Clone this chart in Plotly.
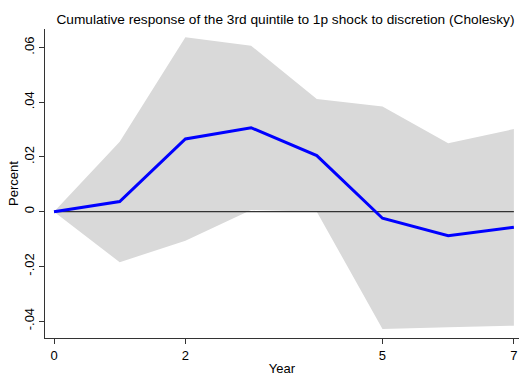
import plotly.graph_objects as go

years = [0, 1, 2, 3, 4, 5, 6, 7]
response = [0.0, 0.0037, 0.0266, 0.0307, 0.0205, -0.0024, -0.0088, -0.0057]
upper = [0.0, 0.0256, 0.0638, 0.0607, 0.0412, 0.0385, 0.0250, 0.0302]
lower = [0.0, -0.0185, -0.0106, 0.0006, 0.0, -0.0429, -0.0423, -0.0417]
x_ticks = [0, 2, 5, 7]
y_ticks = [-0.04, -0.02, 0, 0.02, 0.04, 0.06]
y_labels = ["-.04", "-.02", "0", ".02", ".04", ".06"]

FONT = "Liberation Sans, Arial, sans-serif"

fig = go.Figure()
fig.add_trace(go.Scatter(x=years, y=upper, mode="lines", line=dict(width=0),
                         hoverinfo="skip", showlegend=False))
fig.add_trace(go.Scatter(x=years, y=lower, mode="lines", line=dict(width=0),
                         fill="tonexty", fillcolor="#d9d9d9",
                         hoverinfo="skip", showlegend=False))
fig.add_trace(go.Scatter(x=[years[0], years[-1]], y=[0, 0], mode="lines",
                         line=dict(color="#333333", width=1.2),
                         hoverinfo="skip", showlegend=False))
fig.add_trace(go.Scatter(x=years, y=response, mode="lines",
                         line=dict(color="#0000ff", width=3),
                         showlegend=False))

fig.update_layout(
    width=519, height=376,
    margin=dict(l=45, r=0, t=29, b=38),
    paper_bgcolor="white", plot_bgcolor="white",
    font=dict(family=FONT, size=12, color="black"),
    title=dict(text="Cumulative response of the 3rd quintile to 1p shock to discretion (Cholesky)",
               x=0.550, xanchor="center", y=0.950, yanchor="middle",
               font=dict(family=FONT, size=13.7, color="black")),
    xaxis=dict(range=[-0.137, 7.078], tickvals=x_ticks, ticktext=[str(v) for v in x_ticks],
               showgrid=False, zeroline=False, showline=True, linecolor="#333333", linewidth=1.2,
               ticks="outside", ticklen=5, tickcolor="#333333", tickwidth=1.2,
               tickfont=dict(size=13),
               title=dict(text="Year", standoff=4, font=dict(size=13))),
    yaxis=dict(range=[-0.0462, 0.0668], tickvals=y_ticks, ticktext=y_labels, tickangle=-90,
               showgrid=False, zeroline=False, showline=True, linecolor="#333333", linewidth=1.2,
               ticks="outside", ticklen=5, tickcolor="#333333", tickwidth=1.2,
               tickfont=dict(size=13),
               title=dict(text="Percent", standoff=0, font=dict(size=13))),
)

fig.write_html("out.html")
